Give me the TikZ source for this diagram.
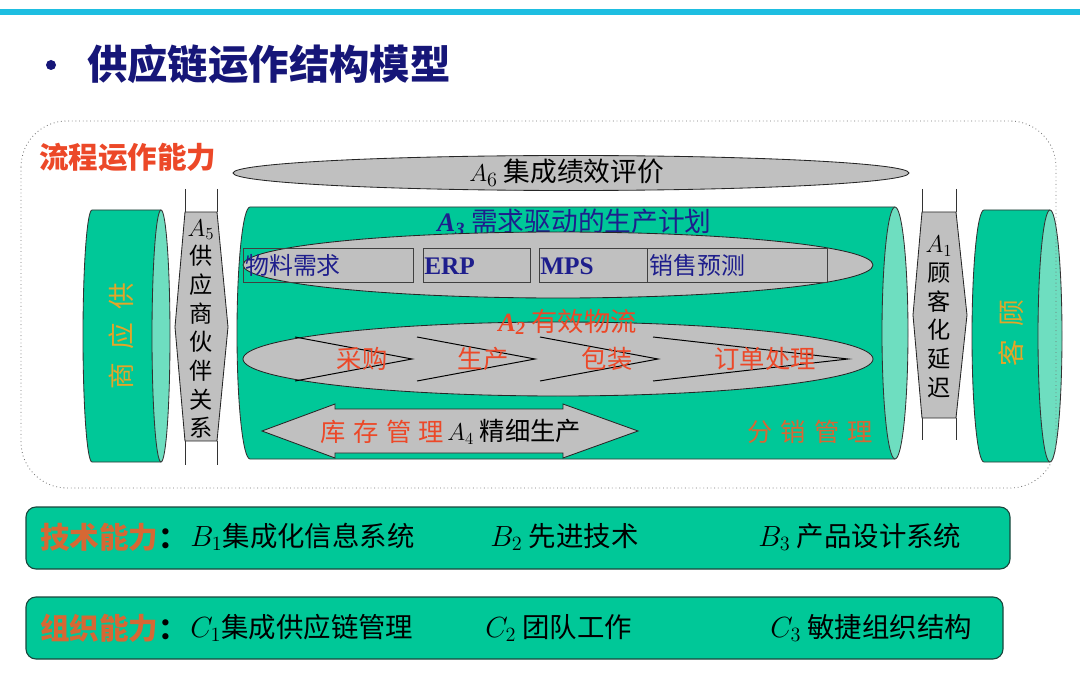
\documentclass[tikz,border=0pt]{standalone}
\usepackage{fontspec}
\setmainfont{Liberation Serif}
\newfontfamily\cjk{Noto Sans CJK SC}
\usetikzlibrary{positioning}
\definecolor{tealbody}{RGB}{0,200,152}
\definecolor{tealcap}{RGB}{110,222,192}
\definecolor{shade}{RGB}{192,192,192}
\definecolor{navy}{RGB}{30,30,140}
\definecolor{titleblue}{RGB}{22,22,120}
\definecolor{redtxt}{RGB}{236,72,40}
\definecolor{orangetxt}{RGB}{214,104,52}
\definecolor{goldtxt}{RGB}{228,165,40}
\definecolor{barcyan}{RGB}{30,190,225}
\definecolor{barline}{RGB}{25,70,60}

\begin{document}
\begin{tikzpicture}[x=0.025cm, y=-0.025cm,
      outline/.style={draw=black!80, line width=0.6pt},
      endcap/.style={fill=tealcap, draw=black!80, line width=0.6pt},
      grayfill/.style={fill=shade, draw=black!85, line width=0.6pt},
      cell/.style={draw=black!75, line width=0.6pt},
      chev/.style={draw=black, line width=0.7pt},
      bar/.style={fill=tealbody, draw=barline, line width=0.8pt, rounded corners=0.25cm},
      txt/.style={inner sep=0, anchor=west},
      mid/.style={font=\cjk\fontsize{18}{21}\selectfont},
      big/.style={font=\cjk\fontsize{19.5}{23}\selectfont},
      head/.style={font=\cjk\bfseries\fontsize{21}{24}\selectfont},
      vert/.style={inner sep=0, align=center, font=\cjk\fontsize{16.5}{20.4}\selectfont},
    ]
    \useasboundingbox (0,0) rectangle (1080,676);
    \fill[barcyan] (0,9) rectangle (1080,15);
    \node[circle, fill=titleblue, inner sep=0, minimum size=0.25cm] (dot) at (51,65) {};
    \node[txt, text=titleblue, font=\cjk\bfseries\fontsize{28.7}{32}\selectfont] (title) at (87,64) {供应链运作结构模型};

    \node[txt, head, text=redtxt] (flow) at (39,157) {流程运作能力};

    \draw[grayfill] (571,173) ellipse[x radius=338, y radius=17.5];
    \node[txt, big, font=\cjk\fontsize{19}{22}\selectfont] (a6) at (469,173) {$A_6$ 集成绩效评价};

    \foreach \xl/\xr/\rx/\yt/\yb in {83/161/9/210/462, 237/895/13/207/459, 972/1050/12/210/462} {
      \pgfmathsetmacro\ry{(\yb-\yt)/2}
      \pgfmathsetmacro\cy{(\yb+\yt)/2}
      \fill[tealbody] (\xl+\rx,\yt) -- (\xr,\yt) -- (\xr,\yb) -- (\xl+\rx,\yb)
        arc[start angle=90, end angle=270, x radius=\rx, y radius=\ry] -- cycle;
      \draw[outline] (\xr,\yt) -- (\xl+\rx,\yt)
        arc[start angle=270, end angle=90, x radius=\rx, y radius=\ry] -- (\xr,\yb);
      \draw[endcap] (\xr,\cy) ellipse[x radius=\rx, y radius=\ry];
    }
    \node[rotate=90, inner sep=0, text=goldtxt, font=\cjk\fontsize{19}{22}\selectfont] (supplier) at (121,336) {商\hspace{0.5em}应\hspace{0.5em}供};
    \node[rotate=90, inner sep=0, text=goldtxt, font=\cjk\fontsize{19}{22}\selectfont] (customer) at (1011,333) {客\hspace{0.5em}顾};

    \draw[grayfill] (185,212) -- (217,212) -- (228,327) -- (217,441) -- (185,441) -- (175,327) -- cycle;
    \draw[outline] (185,189) -- (185,212) (217,189) -- (217,212) (185,441) -- (185,465) (217,441) -- (217,465);
    \node[vert] (a5) at (201,329) {$A_5$\\供\\应\\商\\伙\\伴\\关\\系};

    \draw[grayfill] (922,212) -- (956,212) -- (967,315) -- (956,418) -- (922,418) -- (913,315) -- cycle;
    \draw[outline] (922,189) -- (922,212) (956,189) -- (956,212) (922,418) -- (922,440) (956,418) -- (956,440);
    \node[vert] (a1) at (939,317) {$A_1$\\顾\\客\\化\\延\\迟};

    \node[txt, text=navy, font=\cjk\fontsize{19}{22}\selectfont] (a3) at (437,222) {{\rmfamily\bfseries\itshape A\textsubscript{3}} 需求驱动的生产计划};
    \draw[grayfill] (558,265) ellipse[x radius=315, y radius=33];
    \draw[cell] (243,248) rectangle (413,282);
    \draw[cell] (423,248) rectangle (530,282);
    \draw[cell] (539,248) rectangle (647,282);
    \draw[cell] (647,248) rectangle (827,282);
    \node[txt, text=navy, font=\cjk\fontsize{17}{20}\selectfont] (mrp) at (245,265) {物料需求};
    \node[txt, text=navy, font=\bfseries\fontsize{18}{21}\selectfont] (erp) at (424,266) {ERP};
    \node[txt, text=navy, font=\bfseries\fontsize{18}{21}\selectfont] (mps) at (540,266) {MPS};
    \node[txt, text=navy, font=\cjk\fontsize{17}{20}\selectfont] (forecast) at (649,265) {销售预测};

    \draw[grayfill] (558,359) ellipse[x radius=315, y radius=37];
    \foreach \xa/\xb in {295/412, 417/535, 540/658, 653/848}
      \draw[chev] (\xa,337) -- (\xb,359) -- (\xa,381);
    \node[mid, text=redtxt] (buy) at (362,359) {采购};
    \node[mid, text=redtxt] (make) at (483,359) {生产};
    \node[mid, text=redtxt] (pack) at (607,359) {包装};
    \node[mid, text=redtxt] (order) at (765,359) {订单处理};
    \node[txt, mid, text=redtxt, font=\cjk\fontsize{18.7}{22}\selectfont] (a2) at (498,322) {{\rmfamily\bfseries\itshape A\textsubscript{2}} 有效物流};

    \draw[grayfill] (262,431) -- (335,404) -- (335,409) -- (563,409) -- (563,404) -- (638,431)
      -- (563,458) -- (563,453) -- (335,453) -- (335,458) -- cycle;
    \node[txt, mid, text=redtxt] (stock) at (320,432) {库\hspace{0.3em}存\hspace{0.3em}管\hspace{0.3em}理};
    \node[txt, mid] (a4) at (447,432) {$A_4$ 精细生产};
    \node[txt, mid, text=orangetxt] (distrib) at (747,432) {分\hspace{0.32em}销\hspace{0.32em}管\hspace{0.32em}理};

    \draw[black!55, dotted, line width=0.6pt, rounded corners=1.15cm] (21,121) rectangle (1056,488);

    \draw[bar] (26,507) rectangle (1010,569);
    \node[txt, head] (tech) at (40,537) {\textcolor{orangetxt}{技术能力}：};
    \node[txt, big] (b1) at (190,537) {$B_1$集成化信息系统};
    \node[txt, big] (b2) at (490,537) {$B_2$ 先进技术};
    \node[txt, big] (b3) at (758,537) {$B_3$ 产品设计系统};

    \draw[bar] (26,597) rectangle (1003,659);
    \node[txt, head] (org) at (40,628) {\textcolor{orangetxt}{组织能力}：};
    \node[txt, big] (c1) at (190,628) {$C_1$集成供应链管理};
    \node[txt, big] (c2) at (485,628) {$C_2$ 团队工作};
    \node[txt, big] (c3) at (770,628) {$C_3$ 敏捷组织结构};
  \end{tikzpicture}
\end{document}
